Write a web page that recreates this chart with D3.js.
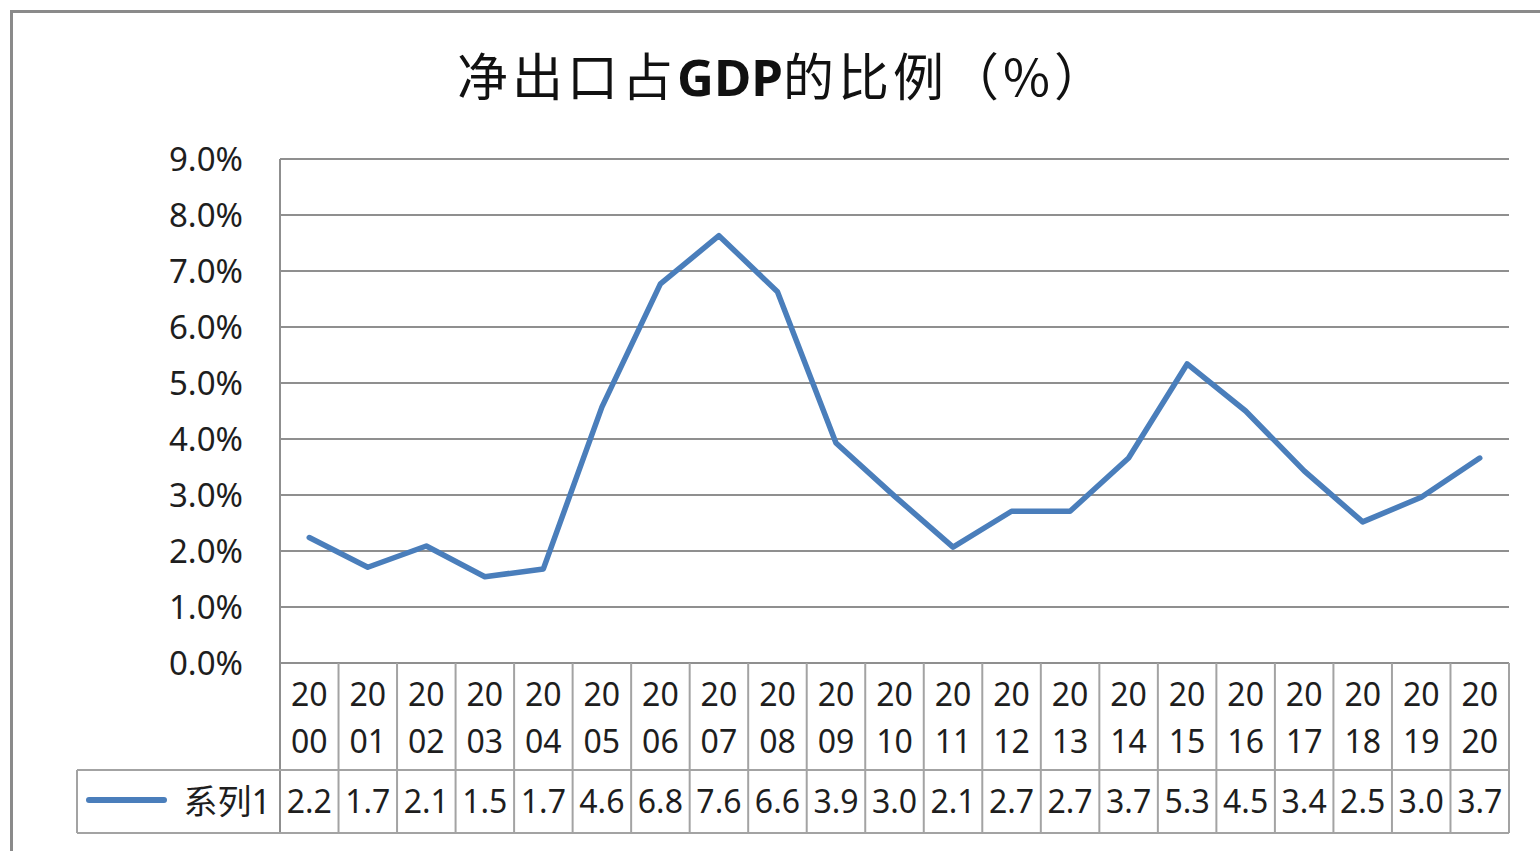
<!DOCTYPE html>
<html>
<head>
<meta charset="utf-8">
<script src="https://cdn.jsdelivr.net/npm/d3@7"></script>
<style>
  html, body { margin: 0; padding: 0; background: #fff; }
  svg { display: block; }
</style>
</head>
<body>
<div id="chart"></div>
<script>
// chart data
const years = ['2000', '2001', '2002', '2003', '2004', '2005', '2006', '2007', '2008', '2009', '2010',
  '2011', '2012', '2013', '2014', '2015', '2016', '2017', '2018', '2019', '2020'];
const netExportShare = [2.24, 1.71, 2.09, 1.54, 1.68, 4.57, 6.77, 7.63, 6.63, 3.93, 2.98,
  2.07, 2.71, 2.71, 3.66, 5.34, 4.50, 3.43, 2.52, 2.96, 3.66];
const yTicks = [0, 1, 2, 3, 4, 5, 6, 7, 8, 9];
const seriesName = '系列1';
const title = ['净出口占', 'GDP', '的比例（%）'];

const W = 1540, H = 851;
const plotLeft = 280, plotRight = 1509, plotTop = 159, plotBottom = 663;
const headerBottom = 770, tableBottom = 833, legendLeft = 77;
const lineColor = '#4a7ebb';
const gridColor = '#8f8f8f';
const tableColor = '#a3a3a3';
const textColor = '#1e1e1e';
const font = '"Noto Sans", "Noto Sans CJK SC", sans-serif';

const svg = d3.select('#chart')
  .append('svg')
  .attr('width', W)
  .attr('height', H);

// outer chart border (runs off the right and bottom edges)
svg.append('rect')
  .attr('x', 11.5).attr('y', 11.5)
  .attr('width', 1700).attr('height', 1000)
  .attr('fill', '#fff')
  .attr('stroke', '#8a8a8a')
  .attr('stroke-width', 3);

const x = d3.scaleBand().domain(years).range([plotLeft, plotRight]);
const y = d3.scaleLinear().domain([0, 9]).range([plotBottom, plotTop]);
const fmtTick = d => d3.format('.1f')(d) + '%';

// title
const t = svg.append('text')
  .attr('x', 783).attr('y', 96)
  .attr('text-anchor', 'middle')
  .attr('font-family', '"Noto Sans CJK SC", sans-serif')
  .attr('font-size', 51)
  .attr('letter-spacing', 4)
  .attr('fill', '#111');
t.append('tspan').text(title[0]);
t.append('tspan')
  .attr('font-family', '"Noto Sans", sans-serif')
  .attr('font-weight', 'bold')
  .attr('letter-spacing', 0)
  .text(title[1]);
t.append('tspan').text(title[2]);

// horizontal gridlines
svg.append('g')
  .selectAll('line')
  .data(yTicks)
  .enter()
  .append('line')
  .attr('x1', plotLeft).attr('x2', plotRight)
  .attr('y1', d => y(d)).attr('y2', d => y(d))
  .attr('stroke', gridColor)
  .attr('stroke-width', 2);

// plot left edge
svg.append('line')
  .attr('x1', plotLeft).attr('x2', plotLeft)
  .attr('y1', plotTop).attr('y2', tableBottom)
  .attr('stroke', gridColor)
  .attr('stroke-width', 2);

// y tick labels
svg.append('g')
  .selectAll('text')
  .data(yTicks)
  .enter()
  .append('text')
  .attr('x', 243)
  .attr('y', d => y(d))
  .attr('dy', '0.36em')
  .attr('text-anchor', 'end')
  .attr('font-family', font)
  .attr('font-size', 33)
  .attr('fill', textColor)
  .text(fmtTick);

// data table grid
const table = svg.append('g')
  .attr('stroke', tableColor)
  .attr('stroke-width', 2);

table.selectAll('line.col')
  .data(years.slice(1).concat(['end']))
  .enter()
  .append('line')
  .attr('class', 'col')
  .attr('x1', d => (d === 'end' ? plotRight : x(d)))
  .attr('x2', d => (d === 'end' ? plotRight : x(d)))
  .attr('y1', plotBottom).attr('y2', tableBottom);

table.append('line')
  .attr('x1', legendLeft).attr('x2', plotRight)
  .attr('y1', headerBottom).attr('y2', headerBottom);
table.append('line')
  .attr('x1', legendLeft).attr('x2', plotRight)
  .attr('y1', tableBottom).attr('y2', tableBottom);
table.append('line')
  .attr('x1', legendLeft).attr('x2', legendLeft)
  .attr('y1', headerBottom).attr('y2', tableBottom);

// category labels, split into two lines like the original
const cat = svg.append('g')
  .selectAll('text')
  .data(years)
  .enter()
  .append('text')
  .attr('text-anchor', 'middle')
  .attr('font-family', font)
  .attr('font-size', 32)
  .attr('fill', textColor);
cat.append('tspan')
  .attr('x', d => x(d) + x.bandwidth() / 2)
  .attr('y', 706)
  .text(d => d.slice(0, 2));
cat.append('tspan')
  .attr('x', d => x(d) + x.bandwidth() / 2)
  .attr('y', 753)
  .text(d => d.slice(2));

// table values
svg.append('g')
  .selectAll('text')
  .data(netExportShare)
  .enter()
  .append('text')
  .attr('x', (d, i) => x(years[i]) + x.bandwidth() / 2)
  .attr('y', 813)
  .attr('text-anchor', 'middle')
  .attr('font-family', font)
  .attr('font-size', 32)
  .attr('fill', textColor)
  .text(d => d3.format('.1f')(d));

// legend key in table
svg.append('line')
  .attr('x1', 89).attr('x2', 164)
  .attr('y1', 800).attr('y2', 800)
  .attr('stroke', lineColor)
  .attr('stroke-width', 6)
  .attr('stroke-linecap', 'round');
svg.append('text')
  .attr('x', 271).attr('y', 814)
  .attr('text-anchor', 'end')
  .attr('font-family', font)
  .attr('font-size', 34)
  .attr('fill', textColor)
  .text(seriesName);

// the series line
const line = d3.line()
  .x((d, i) => x(years[i]) + x.bandwidth() / 2)
  .y(d => y(d));

svg.append('path')
  .datum(netExportShare)
  .attr('fill', 'none')
  .attr('stroke', lineColor)
  .attr('stroke-width', 5.5)
  .attr('stroke-linejoin', 'round')
  .attr('stroke-linecap', 'round')
  .attr('d', line);
</script>
</body>
</html>
